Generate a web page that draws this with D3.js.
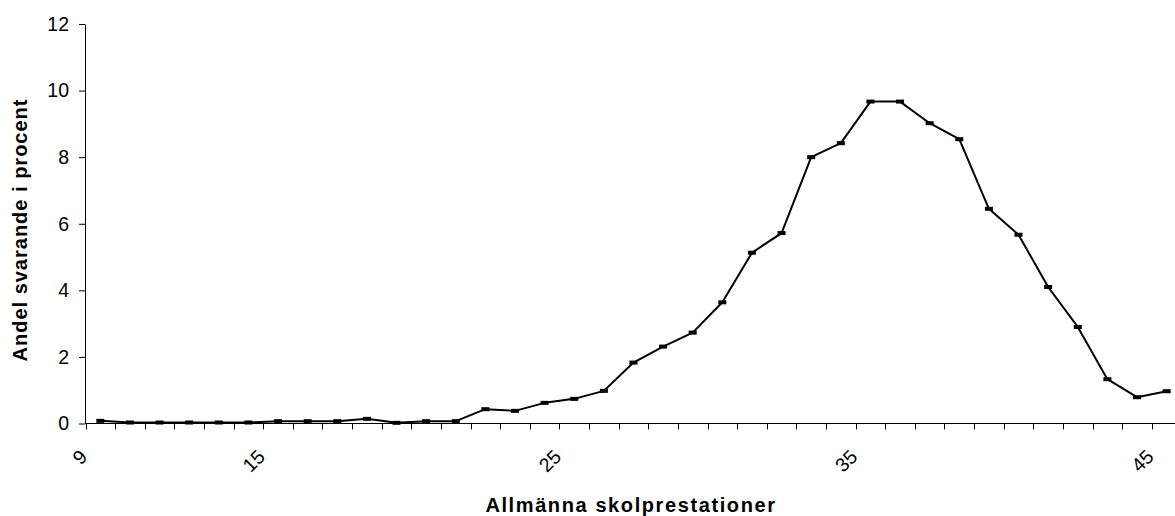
<!DOCTYPE html>
<html>
<head>
<meta charset="utf-8">
<script src="https://cdn.jsdelivr.net/npm/d3@7"></script>
<style>
  html, body { margin: 0; padding: 0; background: #fff; }
  svg { display: block; font-family: "Liberation Sans", Arial, sans-serif; }
</style>
</head>
<body>
<svg id="chart" width="1175" height="516"></svg>
<script>
// Data
const categories = [9,10,11,12,13,14,15,16,17,18,19,20,21,22,23,24,25,26,27,28,29,30,31,32,33,34,35,36,37,38,39,40,41,42,43,44,45];
const values = [0.08,0.03,0.03,0.03,0.03,0.03,0.07,0.07,0.07,0.14,0.02,0.07,0.07,0.43,0.38,0.62,0.74,0.98,1.83,2.31,2.73,3.64,5.13,5.72,8.0,8.42,9.67,9.67,9.02,8.54,6.45,5.67,4.1,2.9,1.33,0.79,0.97];
const xTickLabels = [9,15,25,35,45];
const yTicks = [0,2,4,6,8,10,12];
const xTitle = "Allmänna skolprestationer";
const yTitle = "Andel svarande i procent";

const svg = d3.select("#chart");
const axisX0 = 85;
const step = 29.62;

const x = d3.scaleBand()
  .domain(categories)
  .range([axisX0 + 0.5, axisX0 + 0.5 + categories.length * step])
  .padding(0);

const y = d3.scaleLinear().domain([0, 12]).range([423.5, 24]);

// Y axis
const yAxis = d3.axisLeft(y).tickValues(yTicks).tickSize(6).tickPadding(10).tickSizeOuter(0);
const gy = svg.append("g").attr("transform", `translate(${axisX0},0)`).call(yAxis);
gy.selectAll("text").style("font-size", "19.5px").attr("fill", "#000");
gy.select(".domain").attr("stroke", "#000");
gy.selectAll(".tick line").attr("stroke", "#000");

// X axis: line, ticks at band boundaries, selected labels
const gx = svg.append("g");
gx.append("line")
  .attr("x1", axisX0).attr("x2", 1175)
  .attr("y1", y(0)).attr("y2", y(0))
  .attr("stroke", "#000").attr("stroke-width", 1);

const tickPositions = categories.map(c => x(c)).concat([x(categories[categories.length - 1]) + x.bandwidth()]);
gx.selectAll("line.xt")
  .data(tickPositions)
  .join("line")
  .attr("class", "xt")
  .attr("x1", d => Math.round(d) + 0.5).attr("x2", d => Math.round(d) + 0.5)
  .attr("y1", y(0)).attr("y2", y(0) + 6)
  .attr("stroke", "#000");

gx.selectAll("text.xl")
  .data(xTickLabels)
  .join("text")
  .attr("class", "xl")
  .attr("text-anchor", "end")
  .attr("transform", d => `translate(${x(d) + 3},458) rotate(-45)`)
  .style("font-size", "19.5px")
  .attr("fill", "#000")
  .text(d => d);

// Line
const line = d3.line()
  .x((d, i) => x(categories[i]) + x.bandwidth() / 2)
  .y(d => y(d));

svg.append("path")
  .datum(values)
  .attr("fill", "none")
  .attr("stroke", "#000")
  .attr("stroke-width", 2)
  .attr("stroke-linejoin", "round")
  .attr("d", line);

// Markers (dash)
svg.selectAll("rect.mk")
  .data(values)
  .join("rect")
  .attr("class", "mk")
  .attr("x", (d, i) => x(categories[i]) + x.bandwidth() / 2 - 4)
  .attr("y", d => y(d) - 2)
  .attr("width", 8)
  .attr("height", 4)
  .attr("fill", "#000");

// Titles
svg.append("text")
  .attr("x", 631).attr("y", 512)
  .attr("text-anchor", "middle")
  .style("font-size", "20px")
  .style("font-weight", "bold")
  .style("letter-spacing", "1.6px")
  .attr("fill", "#000")
  .text(xTitle);

svg.append("text")
  .attr("transform", "translate(27,230) rotate(-90)")
  .attr("text-anchor", "middle")
  .style("font-size", "20px")
  .style("font-weight", "bold")
  .style("letter-spacing", "1px")
  .attr("fill", "#000")
  .text(yTitle);
</script>
</body>
</html>
